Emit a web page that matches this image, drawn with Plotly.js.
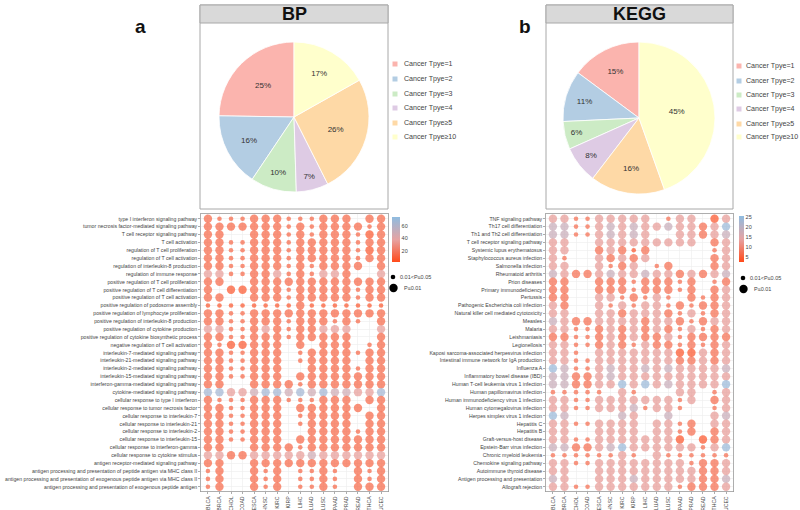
<!DOCTYPE html>
<html><head><meta charset="utf-8">
<script src="https://cdn.plot.ly/plotly-3.0.1.min.js"></script>
<style>html,body{margin:0;padding:0;background:#fff}#chart{width:800px;height:510px}</style>
</head><body><div id="chart"></div>
<script>
// ---------- DATA ----------
const pieLabels = ["Cancer Tpye=1","Cancer Tpye=2","Cancer Tpye=3","Cancer Tpye=4","Cancer Tpye\u22655","Cancer Tpye\u226510"];
const pieColors = ["#FBB4AE","#B3CDE3","#CCEBC5","#DECBE4","#FED9A6","#FFFFCC"];
const bpPieValues = [25,16,10,7,26,17];
const keggPieValues = [15,11,6,8,16,45];

const cancerTypes = ["BLCA","BRCA","CHOL","COAD","ESCA","HNSC","KIRC","KIRP","LIHC","LUAD","LUSC","PAAD","PRAD","READ","THCA","UCEC"];

const bpTerms = [
"type I interferon signaling pathway",
"tumor necrosis factor-mediated signaling pathway",
"T cell receptor signaling pathway",
"T cell activation",
"regulation of T cell proliferation",
"regulation of T cell activation",
"regulation of interleukin-8 production",
"regulation of immune response",
"positive regulation of T cell proliferation",
"positive regulation of T cell differentiation",
"positive regulation of T cell activation",
"positive regulation of podosome assembly",
"positive regulation of lymphocyte proliferation",
"positive regulation of interleukin-8 production",
"positive regulation of cytokine production",
"positive regulation of cytokine biosynthetic process",
"negative regulation of T cell activation",
"interleukin-7-mediated signaling pathway",
"interleukin-21-mediated signaling pathway",
"interleukin-2-mediated signaling pathway",
"interleukin-15-mediated signaling pathway",
"interferon-gamma-mediated signaling pathway",
"cytokine-mediated signaling pathway",
"cellular response to type I interferon",
"cellular response to tumor necrosis factor",
"cellular response to interleukin-7",
"cellular response to interleukin-21",
"cellular response to interleukin-2",
"cellular response to interleukin-15",
"cellular response to interferon-gamma",
"cellular response to cytokine stimulus",
"antigen receptor-mediated signaling pathway",
"antigen processing and presentation of peptide antigen via MHC class II",
"antigen processing and presentation of exogenous peptide antigen via MHC class II",
"antigen processing and presentation of exogenous peptide antigen"];

// one string per term, one character per cancer type:
// '.' = not significant; UPPER case = P<=0.01, lower case = 0.01<P<=0.05;
// letter = count level (r,o,p,g,b)
const bpCells = [
"OoooOOOoooOOO.OO","OOOOOOOoOoOOOOoO","OO..OOOoOoOOOoRO","OOooOOOoOOOOOoOO",
"OOooOOOoOOOOOoRO","OOooOOOoOOOOOoOO","OOooOOOoOoOOOO.O","PPooOOPoOoPPO..P",
"OO..OOOOOOOOOOOO","O.RROOOoOOOOOoOO","OO..OOOoOOOOOoOO","rrrrrrrrOrrrrrrr",
"OOooOOOOOOOOOOOO","OOooOOOoOOOoOo.O","PPooOPOoOOPPP..P","OOooOOOoOOOOO..O",
"OoRROOO.O.OOO.oO","OOooOOO.oOOOOoOO","OOooOOO.oOOOO.OO","OOooOOO..OOOOoOO",
"OOooOOO.OOOOOOOO","OO..OOOOoOOOOOOO","BBPPGBBGBGBGGPPB","OoooOOOoooOOO.OO",
"OOooOOO.OOOOOO.O","OOooOOO.oOOOO.OO","OOooOOO.oOOOO.OO","OOooOOO..OOOOoOO",
"OOooOOO.OOOOOOOO","OO..OOOOoOOOOOOO","PPOOPPPPPGPPPPPP","OO..OOOOOOOOOOOO",
"oO..OoO.ooOo.OoO","oO..OoO.ooOo.OoO","oO..OoO.ooOo.OOO"];
const bpCountLevels = {r:9, o:15, p:36, g:48, b:66};

const keggTerms = [
"TNF signaling pathway","Th17 cell differentiation","Th1 and Th2 cell differentiation",
"T cell receptor signaling pathway","Systemic lupus erythematosus","Staphylococcus aureus infection",
"Salmonella infection","Rheumatoid arthritis","Prion diseases","Primary immunodeficiency",
"Pertussis","Pathogenic Escherichia coli infection","Natural killer cell mediated cytotoxicity",
"Measles","Malaria","Leishmaniasis","Legionellosis",
"Kaposi sarcoma-associated herpesvirus infection","Intestinal immune network for IgA production",
"Influenza A","Inflammatory bowel disease (IBD)","Human T-cell leukemia virus 1 infection",
"Human papillomavirus infection","Human immunodeficiency virus 1 infection",
"Human cytomegalovirus infection","Herpes simplex virus 1 infection","Hepatitis C","Hepatitis B",
"Graft-versus-host disease","Epstein-Barr virus infection","Chronic myeloid leukemia",
"Chemokine signaling pathway","Autoimmune thyroid disease","Antigen processing and presentation",
"Allograft rejection"];
const keggCells = [
"PPooPPPPP.oPP.RP","GGooPGPGPPGPPOPB","GGooPGPGP..PPOPG","PP..PPPPPPPPP.OP",
"PP..OPOrO.....oP","Po..POPOP.....OP","PP..PoOP.oO...OP","GPOOPGPPGPPOPOPG",
"OO..OOOoOOOoO.oO","OO..OOOoOOOoO.OP","OO..PPoOoPo.OoOP","PO..PoPoPPoOoOOP",
"PP..PPOPPPOoPoOP","GPOOPPPPOPPOoOPP","PPooOPOPOPOoPoOP","OOooOPOPOOPoOOOO",
"PPooOPOoPOOoOoOP","PPo.PPPPPPPRRPOP","PPooPPPPPPPOOPOP","BGooPGPPGPGPPPPG",
"GGOOPGPPPPPPPPPP","GGOOPPBPBPGPPPPB","ooooo.Po...PP.oP","PPooPPPPPPPoP.OP",
"PPooPPPGoPPo..oP","BG....GP..G...PG","PPooPPPP.PPoO.PP","PP..PPPP.PPoO.OP",
"PPooPPPPPPPR.ROP","GGOOPGBPPPPPPoPB","ooooooPo.Poooooo","PPooPPPPPPPPoOOP",
"PP..PPPPPPPPPOOP","GP..PPPGPPPPPOOG","PPooPPPPPPPoOOOP"];
const keggCountLevels = {r:4, o:7, p:13, g:18, b:24};

const sigLabels = ["0.01<P\u22640.05","P\u22640.01"];

// ---------- BUILD ----------
const W=800,H=510;
const px=x=>x/W, py=y=>1-y/H;
const SMALL=4.6, LARGE=8.4;

function dots(terms,cells,levels,xa,ya,cax){
  const x=[],y=[],s=[],c=[];
  cells.forEach((row,i)=>{
    for(let j=0;j<row.length;j++){
      const ch=row[j]; if(ch==='.') continue;
      x.push(cancerTypes[j]); y.push(terms[i]);
      s.push(ch===ch.toUpperCase()?LARGE:SMALL);
      c.push(levels[ch.toLowerCase()]);
    }
  });
  return {type:'scatter',mode:'markers',x,y,xaxis:xa,yaxis:ya,showlegend:false,hoverinfo:'x+y',
    marker:{size:s,color:c,coloraxis:cax,opacity:0.72,line:{width:0}}};
}

// plotly's counterclockwise mode keeps the first slice clockwise of the start angle;
// rotate back by the first slice so it starts at 12 o'clock and runs counterclockwise.
function pie(values,dom){
  const total=values.reduce((a,b)=>a+b,0);
  return {type:'pie',values,labels:pieLabels,sort:false,direction:'counterclockwise',rotation:-values[0]/total*360,
   marker:{colors:pieColors,line:{color:'#fff',width:0.8}},text:values.map(v=>v+'%'),textinfo:'text',
   textposition:'inside',insidetextorientation:'horizontal',textfont:{size:8,color:'#333',family:'Liberation Sans, Arial'},
   showlegend:false,hoverinfo:'label+value',domain:dom};
}

const traces=[
  pie(bpPieValues,{x:[px(219),px(369)],y:[py(192),py(42)]}),
  pie(keggPieValues,{x:[px(563),px(715)],y:[py(194),py(42)]}),
  dots(bpTerms,bpCells,bpCountLevels,'x','y','coloraxis'),
  dots(keggTerms,keggCells,keggCountLevels,'x2','y2','coloraxis2')
];

const tickFont={size:5.2,color:'#444',family:'Liberation Sans, Arial'};
function xax(d){return {domain:d,type:'category',categoryarray:cancerTypes,range:[-0.6,15.6],
  showgrid:true,gridcolor:'#ECECEC',gridwidth:0.6,zeroline:false,showline:true,mirror:true,linecolor:'#9A9A9A',linewidth:0.8,
  ticks:'outside',ticklen:2,tickcolor:'#777',tickwidth:0.6,tickangle:-90,tickfont:tickFont,fixedrange:true};}
function yax(d,terms){return {domain:d,type:'category',categoryarray:terms,range:[terms.length-0.4,-0.6],
  showgrid:true,gridcolor:'#ECECEC',gridwidth:0.6,zeroline:false,showline:true,mirror:true,linecolor:'#9A9A9A',linewidth:0.8,
  ticks:'outside',ticklen:2,tickcolor:'#777',tickwidth:0.6,tickfont:tickFont,fixedrange:true};}

const cscale=[[0,'#FF4A1A'],[0.5,'#E6A3A3'],[1,'#8FBCE0']];
const cbFont={size:5.5,color:'#444',family:'Liberation Sans, Arial'};

const shapes=[], annotations=[];
// panel frames and title bars
[[200,388,'BP'],[546,733,'KEGG']].forEach(([x0,x1,t])=>{
  shapes.push({type:'rect',xref:'paper',yref:'paper',x0:px(x0),x1:px(x1),y0:py(209),y1:py(5),line:{color:'#A8A8A8',width:1},fillcolor:'rgba(0,0,0,0)'});
  shapes.push({type:'rect',xref:'paper',yref:'paper',x0:px(x0),x1:px(x1),y0:py(23),y1:py(5),line:{color:'#A8A8A8',width:1},fillcolor:'#D9D9D9'});
  annotations.push({xref:'paper',yref:'paper',x:px((x0+x1)/2),y:py(14),text:'<b>'+t+'</b>',showarrow:false,
    font:{size:18,color:'#111',family:'Liberation Sans, Arial'},xanchor:'center',yanchor:'middle'});
});
annotations.push({xref:'paper',yref:'paper',x:px(133),y:py(14),text:'<b>a</b>',showarrow:false,font:{size:19,color:'#111',family:'Liberation Sans, Arial'}});
annotations.push({xref:'paper',yref:'paper',x:px(525),y:py(14),text:'<b>b</b>',showarrow:false,font:{size:19,color:'#111',family:'Liberation Sans, Arial'}});

// pie legends
const legFont={size:7.1,color:'#444',family:'Liberation Sans, Arial'};
[[395,402,[64,79,94,108,123,137]],[739,744,[66,81,95,109,124,137]]].forEach(([sx,tx,ys])=>{
  pieLabels.forEach((lab,i)=>{
    shapes.push({type:'rect',xref:'paper',yref:'paper',x0:px(sx-2.5),x1:px(sx+2.5),y0:py(ys[i]+2.5),y1:py(ys[i]-2.5),line:{width:0},fillcolor:pieColors[i]});
    annotations.push({xref:'paper',yref:'paper',x:px(tx),y:py(ys[i]),text:lab,showarrow:false,xanchor:'left',yanchor:'middle',font:legFont});
  });
});
// significance size legends
const sigFont={size:5.5,color:'#444',family:'Liberation Sans, Arial'};
[[393,277,288],[743,278,289]].forEach(([cx,y1,y2])=>{
  shapes.push({type:'circle',xref:'paper',yref:'paper',x0:px(cx-SMALL/2),x1:px(cx+SMALL/2),y0:py(y1+SMALL/2),y1:py(y1-SMALL/2),fillcolor:'#000',line:{width:0}});
  shapes.push({type:'circle',xref:'paper',yref:'paper',x0:px(cx+0.5-LARGE/2),x1:px(cx+0.5+LARGE/2),y0:py(y2+LARGE/2),y1:py(y2-LARGE/2),fillcolor:'#000',line:{width:0}});
  annotations.push({xref:'paper',yref:'paper',x:px(cx+5),y:py(y1),text:sigLabels[0],showarrow:false,xanchor:'left',yanchor:'middle',font:sigFont});
  annotations.push({xref:'paper',yref:'paper',x:px(cx+9),y:py(y2),text:sigLabels[1],showarrow:false,xanchor:'left',yanchor:'middle',font:sigFont});
});

const layout={
  width:W,height:H,margin:{l:0,r:0,t:0,b:0},paper_bgcolor:'#fff',plot_bgcolor:'#fff',
  font:{family:'Liberation Sans, Arial',color:'#444'},
  xaxis:xax([px(201),px(388)]), yaxis:yax([py(491.5),py(214)],bpTerms),
  xaxis2:Object.assign(xax([px(546),px(733)]),{anchor:'y2'}), yaxis2:Object.assign(yax([py(491.5),py(214)],keggTerms),{anchor:'x2'}),
  coloraxis:{colorscale:cscale,cmin:3,cmax:74,colorbar:{x:px(392),xanchor:'left',y:py(217),yanchor:'top',len:45,lenmode:'pixels',
    thickness:8,outlinewidth:0,tickvals:[20,40,60],ticks:'',tickfont:cbFont,xpad:0,ypad:0}},
  coloraxis2:{colorscale:cscale,cmin:2.5,cmax:25.5,colorbar:{x:px(739),xanchor:'left',y:py(216),yanchor:'top',len:46,lenmode:'pixels',
    thickness:5,outlinewidth:0,tickvals:[5,10,15,20,25],ticks:'',tickfont:cbFont,xpad:0,ypad:0}},
  shapes,annotations
};
layout.xaxis.anchor='y'; layout.yaxis.anchor='x';
Plotly.newPlot('chart',traces,layout,{displayModeBar:false,staticPlot:true});
</script></body></html>
